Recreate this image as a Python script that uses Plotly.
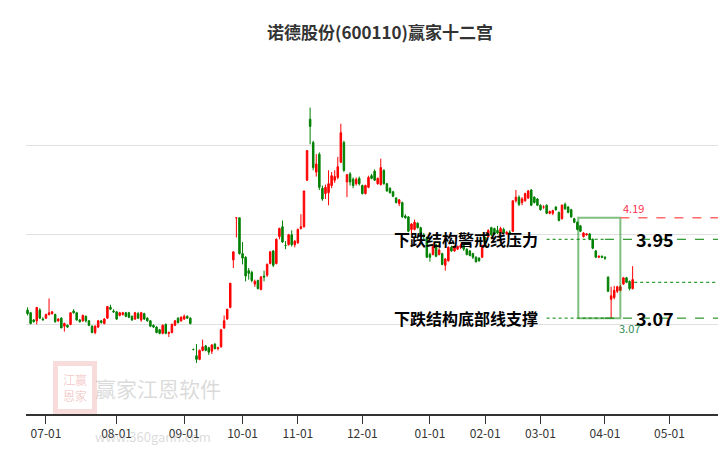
import plotly.graph_objects as go

# daily OHLC, 2024-06-24 .. 2025-04-17 (trading days)
opens = [3.16, 3.13, 3.05, 3.04, 3.16, 3.06, 3.07, 3.11, 3.12, 3.11, 3.04, 3.07, 2.98, 2.99, 3.00, 3.15, 3.13, 3.05,
         3.04, 3.09, 3.04, 2.98, 2.91, 2.97, 3.04, 3.01, 3.07, 3.19, 3.15, 3.14, 3.10, 3.11, 3.13, 3.13, 3.09, 3.06,
         3.12, 3.05, 3.12, 3.07, 3.04, 2.99, 2.97, 2.94, 2.90, 3.00, 2.90, 2.91, 2.99, 3.07, 3.04, 3.06, 3.09, 3.07,
         2.72, 2.65, 2.61, 2.71, 2.76, 2.74, 2.70, 2.78, 2.73, 2.75, 2.96, 3.06, 3.19, 3.72, 4.19, 4.19, 3.79, 3.75,
         3.60, 3.58, 3.45, 3.49, 3.39, 3.54, 3.55, 3.68, 3.82, 3.68, 3.98, 4.09, 3.88, 3.89, 4.00, 3.89, 3.91, 4.07,
         4.09, 4.61, 5.29, 5.03, 4.70,
         4.90, 4.52, 4.46, 4.47, 4.55, 4.61, 4.64, 4.81, 5.03, 4.59, 4.68, 4.62, 4.57, 4.63, 4.55, 4.46, 4.53, 4.66,
         4.71, 4.57, 4.56, 4.72, 4.57, 4.52, 4.48, 4.41, 4.35, 4.36, 4.21, 4.20, 4.06, 4.06, 4.13, 4.08, 4.00, 3.97,
         3.78, 3.78, 3.89, 3.78, 3.79, 3.66, 3.71, 3.86, 3.82, 3.84, 3.86, 3.88, 3.84, 3.82, 3.79, 3.75, 3.74, 3.75,
         3.97, 3.98, 4.08, 4.07, 4.05, 4.02, 4.06, 4.01, 4.03, 4.04, 4.38, 4.42, 4.36, 4.38, 4.41, 4.50, 4.42, 4.40,
         4.33, 4.31, 4.33, 4.24, 4.24, 4.31, 4.25, 4.18, 4.34, 4.31, 4.28, 4.18, 4.14, 4.10, 3.98, 4.00, 4.01, 3.95,
         3.82, 3.75, 3.76, 3.75,
         3.53, 3.28, 3.30, 3.37, 3.38, 3.45, 3.52, 3.48, 3.40]
closes = [3.12, 3.01, 3.03, 3.19, 3.07, 3.05, 3.11, 3.13, 3.14, 3.03, 3.06, 2.96, 3.01, 2.97, 3.13, 3.13, 3.05, 3.03,
          3.10, 3.04, 2.99, 2.91, 2.98, 3.04, 3.02, 3.06, 3.20, 3.17, 3.14, 3.06, 3.13, 3.13, 3.09, 3.08, 3.05, 3.13,
          3.07, 3.13, 3.06, 3.04, 2.98, 2.97, 2.91, 2.90, 2.99, 2.90, 2.91, 3.00, 3.04, 3.02, 3.08, 3.09, 3.07, 3.01,
          2.72, 2.61, 2.71, 2.75, 2.71, 2.69, 2.77, 2.73, 2.74, 2.94, 3.04, 3.17, 3.46, 3.81, 4.19, 3.79, 3.74, 3.54,
          3.57, 3.49, 3.48, 3.40, 3.53, 3.53, 3.67, 3.81, 3.66, 3.95, 4.07, 3.92, 3.88, 4.00, 3.89, 3.93, 4.06, 4.09,
          4.49, 4.94, 5.21, 4.75, 4.79,
          4.53, 4.40, 4.53, 4.57, 4.66, 4.65, 4.76, 5.14, 4.72, 4.67, 4.59, 4.55, 4.62, 4.57, 4.46, 4.55, 4.64, 4.63,
          4.61, 4.63, 4.75, 4.57, 4.49, 4.47, 4.43, 4.36, 4.39, 4.20, 4.19, 4.04, 4.12, 4.14, 4.08, 4.00, 3.98, 3.75,
          3.75, 3.89, 3.76, 3.83, 3.67, 3.73, 3.86, 3.82, 3.87, 3.87, 3.88, 3.84, 3.78, 3.77, 3.75, 3.70, 3.71, 3.88,
          3.90, 4.05, 4.00, 4.01, 4.02, 4.07, 4.02, 4.03, 4.02, 4.38, 4.42, 4.34, 4.40, 4.46, 4.49, 4.33, 4.36, 4.33,
          4.28, 4.31, 4.24, 4.26, 4.27, 4.28, 4.16, 4.33, 4.29, 4.25, 4.20, 4.14, 4.06, 4.04, 4.02, 4.01, 3.95, 3.85,
          3.75, 3.76, 3.75, 3.74,
          3.37, 3.32, 3.38, 3.42, 3.42, 3.52, 3.47, 3.40, 3.50]
highs = [3.19, 3.14, 3.06, 3.19, 3.18, 3.08, 3.12, 3.29, 3.15, 3.12, 3.07, 3.08, 3.02, 3.00, 3.13, 3.17, 3.14, 3.06,
         3.11, 3.10, 3.05, 2.99, 2.99, 3.05, 3.05, 3.07, 3.20, 3.22, 3.17, 3.15, 3.14, 3.14, 3.14, 3.14, 3.10, 3.14,
         3.14, 3.14, 3.13, 3.08, 3.05, 3.00, 2.98, 2.95, 3.00, 3.01, 2.92, 3.01, 3.05, 3.08, 3.09, 3.11, 3.10, 3.08,
         2.73, 2.78, 2.72, 2.83, 2.77, 2.75, 2.78, 2.79, 2.75, 2.95, 3.10, 3.17, 3.46, 3.81, 4.19, 4.19, 3.92, 3.76,
         3.63, 3.60, 3.50, 3.50, 3.54, 3.60, 3.68, 3.82, 3.83, 3.96, 4.08, 4.16, 3.93, 4.01, 4.05, 3.94, 4.07, 4.23,
         4.49, 4.94, 5.42, 5.05, 4.90,
         4.92, 4.55, 4.56, 4.72, 4.70, 4.72, 4.87, 5.24, 5.05, 4.68, 4.70, 4.64, 4.64, 4.65, 4.56, 4.56, 4.66, 4.68,
         4.73, 4.64, 4.85, 4.73, 4.58, 4.53, 4.49, 4.42, 4.40, 4.37, 4.23, 4.21, 4.13, 4.17, 4.14, 4.09, 4.02, 3.98,
         3.80, 3.90, 3.90, 3.85, 3.80, 3.74, 3.87, 3.88, 3.88, 3.88, 3.90, 3.90, 3.85, 3.83, 3.80, 3.76, 3.75, 3.89,
         3.98, 4.06, 4.09, 4.08, 4.10, 4.09, 4.08, 4.04, 4.05, 4.38, 4.50, 4.44, 4.42, 4.47, 4.50, 4.51, 4.43, 4.41,
         4.34, 4.33, 4.34, 4.27, 4.28, 4.32, 4.26, 4.34, 4.36, 4.32, 4.29, 4.19, 4.15, 4.11, 4.03, 4.02, 4.02, 3.96,
         3.83, 3.77, 3.77, 3.76,
         3.53, 3.42, 3.43, 3.43, 3.44, 3.53, 3.53, 3.49, 3.65]
lows = [3.10, 3.00, 3.02, 3.00, 3.06, 3.05, 3.06, 3.10, 3.11, 3.02, 3.03, 2.96, 2.92, 2.96, 2.99, 3.12, 3.04, 3.02,
        3.03, 3.02, 2.98, 2.90, 2.89, 2.96, 3.01, 3.00, 3.06, 3.16, 3.13, 3.05, 3.09, 3.10, 3.08, 3.07, 3.04, 3.05,
        3.06, 3.03, 3.05, 3.03, 2.97, 2.96, 2.90, 2.89, 2.89, 2.89, 2.86, 2.90, 2.98, 3.01, 3.03, 3.05, 3.06, 3.00,
        2.71, 2.57, 2.60, 2.70, 2.70, 2.66, 2.67, 2.72, 2.71, 2.74, 2.95, 3.05, 3.18, 3.63, 3.97, 3.78, 3.67, 3.48,
        3.50, 3.47, 3.42, 3.39, 3.38, 3.48, 3.53, 3.67, 3.64, 3.67, 3.95, 3.91, 3.84, 3.88, 3.87, 3.86, 3.90, 4.06,
        4.08, 4.60, 5.01, 4.72, 4.65,
        4.50, 4.38, 4.40, 4.33, 4.52, 4.58, 4.62, 4.80, 4.70, 4.42, 4.55, 4.52, 4.55, 4.55, 4.45, 4.45, 4.52, 4.62,
        4.60, 4.56, 4.55, 4.56, 4.48, 4.46, 4.42, 4.35, 4.32, 4.19, 4.18, 4.03, 4.02, 4.05, 4.07, 3.99, 3.95, 3.74,
        3.70, 3.77, 3.75, 3.77, 3.66, 3.60, 3.70, 3.81, 3.81, 3.83, 3.84, 3.82, 3.77, 3.76, 3.73, 3.69, 3.70, 3.74,
        3.89, 3.97, 3.99, 4.00, 4.01, 4.01, 4.01, 4.00, 4.00, 4.03, 4.36, 4.32, 4.33, 4.37, 4.40, 4.32, 4.35, 4.32,
        4.27, 4.29, 4.23, 4.23, 4.22, 4.27, 4.15, 4.17, 4.28, 4.24, 4.19, 4.13, 4.05, 4.03, 3.97, 3.99, 3.94, 3.84,
        3.74, 3.74, 3.74, 3.72,
        3.36, 3.07, 3.28, 3.35, 3.37, 3.44, 3.46, 3.38, 3.39]

# position of each month's first trading day on the axis, and labels
month_idx = [6, 29, 51, 70, 88, 109, 131, 149, 167, 188, 209]
month_lbl = ['07-01', '08-01', '09-01', '10-01', '11-01', '12-01', '01-01', '02-01', '03-01', '04-01', '05-01']

pressure = 3.95
support = 3.07
box_top = 4.19
box_left, box_right = 179.3, 193
last_close = closes[-1] - 0.03

x = list(range(len(closes)))
x_end = 230

fig = go.Figure()
fig.add_trace(go.Candlestick(
    x=x, open=opens, high=highs, low=lows, close=closes,
    increasing=dict(line=dict(color='#ff0000', width=1), fillcolor='#ff0000'),
    decreasing=dict(line=dict(color='#008000', width=1), fillcolor='#008000'),
    whiskerwidth=0, showlegend=False, hoverinfo='skip'))

# box around the last drop
fig.add_trace(go.Scatter(
    x=[box_left, box_left, box_right, box_right, box_left],
    y=[support, box_top, box_top, support, support],
    mode='lines', line=dict(color='rgba(0,128,0,0.5)', width=2),
    showlegend=False, hoverinfo='skip'))
# reference lines
fig.add_trace(go.Scatter(x=[box_right, x_end], y=[box_top, box_top], mode='lines',
                         line=dict(color='#ff6b6b', width=1.5, dash='dash'), showlegend=False))
for lvl in [pressure, support]:
    fig.add_trace(go.Scatter(x=[169, 188], y=[lvl, lvl], mode='lines',
                             line=dict(color='#008000', width=1, dash='dot'), showlegend=False))
    fig.add_trace(go.Scatter(x=[188, x_end], y=[lvl, lvl], mode='lines',
                             line=dict(color='#008000', width=1, dash='dash'), showlegend=False))
fig.add_trace(go.Scatter(x=[len(closes) - 0.5, x_end], y=[last_close, last_close], mode='lines',
                         line=dict(color='#008000', width=1, dash='dot'), showlegend=False))

annotations = [
    dict(x=118.5, y=pressure, text='<b>下跌结构警戒线压力</b>', showarrow=False, xanchor='left',
         font=dict(size=16, color='black')),
    dict(x=118.5, y=support, text='<b>下跌结构底部线支撑</b>', showarrow=False, xanchor='left',
         font=dict(size=16, color='black')),
    dict(x=197.5, y=pressure, text='<b>3.95</b>', showarrow=False, xanchor='left',
         font=dict(size=18, color='black')),
    dict(x=197.5, y=support, text='<b>3.07</b>', showarrow=False, xanchor='left',
         font=dict(size=18, color='black')),
    dict(x=197.2, y=box_top, text='4.19', showarrow=False, yanchor='bottom',
         font=dict(size=11, color='#ff3050')),
    dict(x=196, y=support, text='3.07', showarrow=False, yanchor='top',
         font=dict(size=11, color='#2e8b57')),
    dict(xref='paper', yref='paper', x=0.5, y=1.0, yanchor='bottom', yshift=15,
         text='<b>诺德股份(600110)赢家十二宫</b>', showarrow=False,
         font=dict(size=17, color='#333333')),
    dict(xref='paper', yref='paper', x=0.095, y=0.025, text='赢家江恩软件', showarrow=False,
         xanchor='left', font=dict(size=21, color='rgba(150,150,150,0.35)')),
    dict(xref='paper', yref='paper', x=0.095, y=-0.03, yanchor='top', text='www.360gann.com',
         showarrow=False, xanchor='left', font=dict(size=13, color='rgba(150,150,150,0.35)')),
    dict(xref='paper', yref='paper', x=0.038, y=0.0, text='江赢<br>恩家', showarrow=False,
         font=dict(size=12, color='rgba(220,80,80,0.3)'),
         bordercolor='rgba(220,80,80,0.2)', borderwidth=5, borderpad=5),
]
for v in [2, 3, 4, 5]:
    annotations.append(dict(x=x_end, y=v, text=str(v), showarrow=False, xanchor='left',
                            yanchor='bottom', xshift=-9, font=dict(size=12, color='#333333')))

fig.update_layout(
    width=726, height=450,
    margin=dict(l=18, r=0, t=53, b=44),
    paper_bgcolor='white', plot_bgcolor='white',
    font=dict(family='Noto Sans CJK SC, sans-serif'),
    annotations=annotations,
    xaxis=dict(range=[-0.5, x_end], rangeslider=dict(visible=False), tickmode='array',
               tickvals=month_idx, ticktext=month_lbl, ticks='outside', ticklen=8,
               tickcolor='#333333', showgrid=False, zeroline=False, automargin=False,
               showline=True, linecolor='#333333', linewidth=1.5,
               tickfont=dict(size=12, color='#333333')),
    yaxis=dict(range=[2, 5.94], showticklabels=False, tickvals=[2, 3, 4, 5],
               gridcolor='#e0e0e0', zeroline=False, automargin=False),
)
fig.write_html("out.html")
